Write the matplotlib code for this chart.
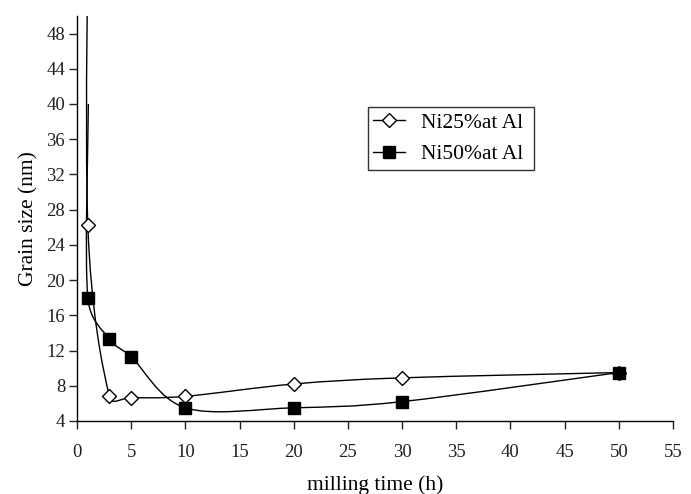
import numpy as np
import matplotlib
matplotlib.use('Agg')
import matplotlib.pyplot as plt
from matplotlib.path import Path
from matplotlib.patches import PathPatch
from matplotlib.lines import Line2D

plt.rcParams['font.family'] = ['Liberation Serif', 'DejaVu Serif']

# milling time (h)
time_h = [1, 3, 5, 10, 20, 30, 50]
# grain size (nm)
ni25 = [26.2, 6.8, 6.65, 6.8, 8.2, 8.9, 9.5]
ni50 = [18.0, 13.3, 11.3, 5.5, 5.5, 6.2, 9.5]
# smoothed-curve start points (no marker, give the spike at 1 h)
ni25_start = (1.1, 70)
ni50_start = (1.05, 40)

labels = ['Ni25%at Al', 'Ni50%at Al']

XLIM = (0, 55)
YLIM = (4, 50)
AX_RECT = [0.1114, 0.1478, 0.8625, 0.82]
FIG_W, FIG_H = 691, 494


def smooth_path(x, y):
    # Excel-like smoothed line: cubic Bezier segments, tangents from
    # neighbours, control distance limited by segment length (pixel space)
    sx = AX_RECT[2] * FIG_W / (XLIM[1] - XLIM[0])
    sy = AX_RECT[3] * FIG_H / (YLIM[1] - YLIM[0])
    p = np.column_stack([np.array(x) * sx, np.array(y) * sy]).astype(float)
    n = len(p)

    def ctrl(i, j):
        # control point leaving p[i] towards p[j]
        a = p[i - 1] if i > 0 else p[i]
        b = p[i + 1] if i + 1 < n else p[i]
        t = b - a
        if j < i:
            t = -t
        ln = np.hypot(*t)
        if ln == 0:
            return p[i]
        seg = np.hypot(*(p[j] - p[i]))
        d = min(ln / 6.0, seg / 2.0)
        return p[i] + t / ln * d

    verts = [p[0]]
    codes = [Path.MOVETO]
    for i in range(n - 1):
        verts += [ctrl(i, i + 1), ctrl(i + 1, i), p[i + 1]]
        codes += [Path.CURVE4] * 3
    v = np.array(verts) / np.array([sx, sy])
    return Path(v, codes)


fig = plt.figure(figsize=(FIG_W / 100, FIG_H / 100), dpi=100)
ax = fig.add_axes(AX_RECT)

for start, vals in [(ni25_start, ni25), (ni50_start, ni50)]:
    xs = [start[0]] + time_h
    ys = [start[1]] + vals
    ax.add_patch(PathPatch(smooth_path(xs, ys), facecolor='none',
                           edgecolor='black', lw=1.0, zorder=2))

ax.plot(time_h, ni25, linestyle='none', marker='D', markersize=6.8,
        markerfacecolor='white', markeredgecolor='black', markeredgewidth=1.0, zorder=3)
ax.plot(time_h, ni50, linestyle='none', marker='s', markersize=8,
        markerfacecolor='black', markeredgecolor='black', zorder=3)

ax.set_xlim(*XLIM)
ax.set_ylim(*YLIM)
ax.set_xticks(np.arange(0, 56, 5))
ax.set_yticks(np.arange(4, 49, 4))
ax.spines['top'].set_visible(False)
ax.spines['right'].set_visible(False)
ax.spines['left'].set_linewidth(1.0)
ax.spines['bottom'].set_linewidth(1.0)
ax.tick_params(direction='out', length=5.5, width=1.0, labelsize=13.5, colors='#222222')
ax.tick_params(axis='x', pad=11)
ax.tick_params(axis='y', pad=3)
ax.set_xlabel('milling time (h)', fontsize=15.5, labelpad=10)
ax.set_ylabel('Grain size (nm)', fontsize=15.5, labelpad=6)

handles = [
    Line2D([], [], color='black', lw=1.0, marker='D', markersize=6.8,
           markerfacecolor='white', markeredgecolor='black'),
    Line2D([], [], color='black', lw=1.0, marker='s', markersize=8,
           markerfacecolor='black'),
]
leg = ax.legend(handles, labels, loc='upper left',
                bbox_to_anchor=(0.488, 0.622, 0.279, 0.153), mode='expand',
                borderaxespad=0, fancybox=False, edgecolor='#333333', fontsize=15.5,
                handlelength=1.5, handletextpad=0.7, borderpad=0.25,
                labelspacing=0.55, framealpha=1)
leg.get_frame().set_linewidth(1.0)

fig.savefig('out.png', dpi=100)
